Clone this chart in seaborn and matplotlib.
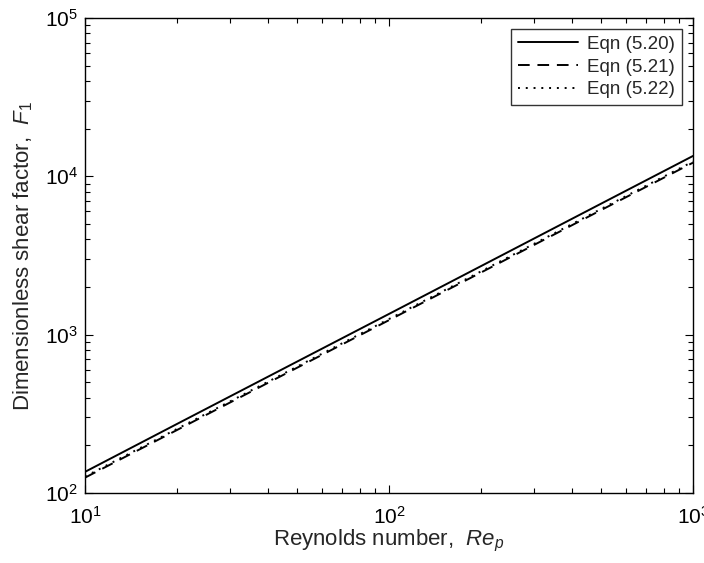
import matplotlib
matplotlib.use("Agg")
import matplotlib.pyplot as plt
import seaborn as sns
import pandas as pd
from matplotlib.ticker import LogLocator, NullFormatter

# Data
Re = [10, 20, 50, 100, 200, 500, 1000]
F_520 = [136, 272, 678, 1352, 2700, 6740, 13450]
F_521 = [125, 249, 620, 1235, 2460, 6140, 12200]
F_522 = [127, 253, 630, 1255, 2500, 6240, 12400]
labels = ["Eqn (5.20)", "Eqn (5.21)", "Eqn (5.22)"]

sns.set_style("white")
plt.rcParams['font.family'] = ['Liberation Sans', 'DejaVu Sans']
plt.rcParams['mathtext.fontset'] = 'custom'
plt.rcParams['mathtext.rm'] = 'Liberation Sans'
plt.rcParams['mathtext.it'] = 'Liberation Sans:italic'
plt.rcParams['mathtext.bf'] = 'Liberation Sans:bold'

df = pd.concat([
    pd.DataFrame({"Re": Re, "F": F_520, "eq": labels[0]}),
    pd.DataFrame({"Re": Re, "F": F_521, "eq": labels[1]}),
    pd.DataFrame({"Re": Re, "F": F_522, "eq": labels[2]}),
])

fig = plt.figure(figsize=(7.04, 5.63), dpi=100)
ax = fig.add_axes([85/704, 70/563, 608/704, 475/563])

styles = {labels[0]: '-', labels[1]: (0, (6, 4)), labels[2]: (0, (1, 3))}
for lab in labels:
    sub = df[df["eq"] == lab]
    sns.lineplot(data=sub, x="Re", y="F", ax=ax, color="black",
                 dashes=False, linewidth=1.4, label=lab)
    ax.lines[-1].set_linestyle(styles[lab])

ax.set_xscale("log")
ax.set_yscale("log")
ax.set_xlim(10, 1000)
ax.set_ylim(100, 1e5)

ax.xaxis.set_major_locator(LogLocator(base=10, numticks=10))
ax.yaxis.set_major_locator(LogLocator(base=10, numticks=10))
ax.xaxis.set_minor_locator(LogLocator(base=10, subs=range(2, 10), numticks=20))
ax.yaxis.set_minor_locator(LogLocator(base=10, subs=range(2, 10), numticks=20))
ax.xaxis.set_minor_formatter(NullFormatter())
ax.yaxis.set_minor_formatter(NullFormatter())

ax.tick_params(which='both', direction='in', top=True, right=True,
               bottom=True, left=True, colors='black')
ax.tick_params(which='major', length=6, width=0.8, labelsize=15)
ax.tick_params(axis='x', which='major', pad=9)
ax.tick_params(axis='y', which='major', pad=5)
ax.tick_params(which='minor', length=3.5, width=0.8)

for s in ax.spines.values():
    s.set_visible(True)
    s.set_color('black')
    s.set_linewidth(1.0)

ax.set_xlabel("Reynolds number,  $Re_p$", fontsize=16, labelpad=0)
ax.set_ylabel("Dimensionless shear factor,  $F_{\\mathit{1}}$", fontsize=16, labelpad=7)

leg = ax.legend(loc='upper right', fontsize=13.5, frameon=True, fancybox=False,
                edgecolor='black', handlelength=3.2, borderpad=0.35,
                labelspacing=0.3, handletextpad=0.5, borderaxespad=0.6)
leg.get_frame().set_linewidth(1.0)

fig.savefig("out.png", dpi=100, facecolor='white')
